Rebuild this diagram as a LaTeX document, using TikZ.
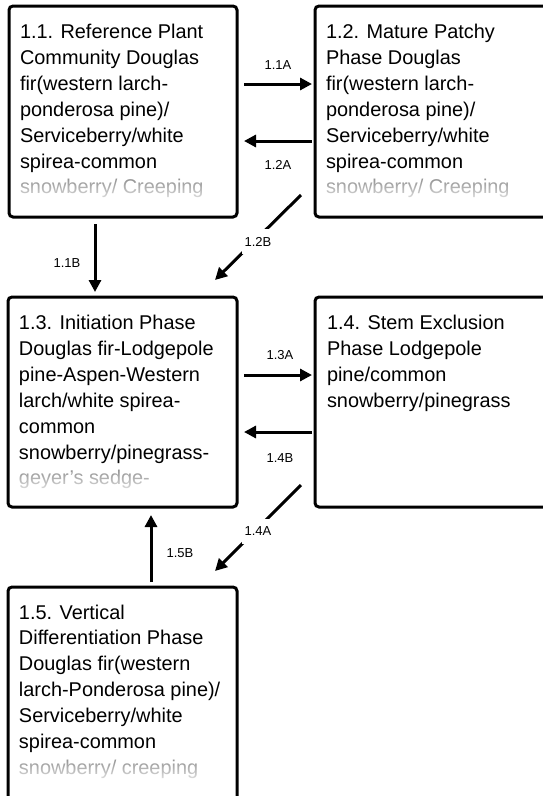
\documentclass[tikz,border=0pt]{standalone}
\usepackage{fontspec}
\setmainfont{Liberation Sans}
\usetikzlibrary{arrows.meta,fadings}
\tikzfading[name=lastline, top color=transparent!45, bottom color=transparent!10]
\newcommand{\boxtext}[1]{\begin{minipage}[t]{225pt}\fontsize{19.9pt}{25.9pt}\selectfont #1\end{minipage}}
\begin{document}
\begin{tikzpicture}[x=1pt,y=1pt,
  stage/.style={draw, line width=3pt, rounded corners=4pt, outer sep=0pt, inner sep=0pt, anchor=north west},
  txt/.style={anchor=base west, inner sep=0pt, outer sep=0pt},
  arr/.style={line width=3pt, -{Triangle[length=12pt,width=12pt]}},
  lbl/.style={font=\fontsize{13pt}{15pt}\selectfont, inner sep=0pt},
  dlbl/.style={lbl, fill=white, inner xsep=3pt, inner ysep=8pt},
  fade/.style={white, path fading=lastline}]
\useasboundingbox (0,0) rectangle (543,-796);
\clip (0,0) rectangle (543,-796);

% boxes
\node[stage, minimum width=228pt, minimum height=211pt] (b11) at (9,-6) {};
\node[stage, minimum width=240pt, minimum height=211pt] (b12) at (315,-6) {};
\node[stage, minimum width=229pt, minimum height=210pt] (b13) at (8,-297) {};
\node[stage, minimum width=240pt, minimum height=210pt] (b14) at (315,-297) {};
\node[stage, minimum width=229pt, minimum height=260pt] (b15) at (8,-587) {};

% texts
\node[txt] (t11) at ([shift={(11,-32.5)}]b11.north west) {\boxtext{1.1. Reference Plant\\Community Douglas\\fir(western larch-\\ponderosa pine)/\\Serviceberry/white\\spirea-common\\snowberry/ Creeping}};
\node[txt] (t12) at ([shift={(11,-32.5)}]b12.north west) {\boxtext{1.2. Mature Patchy\\Phase Douglas\\fir(western larch-\\ponderosa pine)/\\Serviceberry/white\\spirea-common\\snowberry/ Creeping}};
\node[txt] (t13) at ([shift={(11,-32.5)}]b13.north west) {\boxtext{1.3. Initiation Phase\\Douglas fir-Lodgepole\\pine-Aspen-Western\\larch/white spirea-\\common\\snowberry/pinegrass-\\geyer’s sedge-}};
\node[txt] (t14) at ([shift={(12,-32.5)}]b14.north west) {\boxtext{1.4. Stem Exclusion\\Phase Lodgepole\\pine/common\\snowberry/pinegrass}};
\node[txt] (t15) at ([shift={(11,-32)}]b15.north west) {\boxtext{1.5. Vertical\\Differentiation Phase\\Douglas fir(western\\larch-Ponderosa pine)/\\Serviceberry/white\\spirea-common\\snowberry/ creeping}};

% fading of the last visible line
\fill[fade] ([shift={(3,-171)}]b11.north west) rectangle ([shift={(225,-195)}]b11.north west);
\fill[fade] ([shift={(3,-171)}]b12.north west) rectangle ([shift={(236,-195)}]b12.north west);
\fill[fade] ([shift={(3,-171)}]b13.north west) rectangle ([shift={(226,-195)}]b13.north west);
\fill[fade] ([shift={(3,-170.5)}]b15.north west) rectangle ([shift={(226,-194.5)}]b15.north west);

% connectors
\draw[arr, shorten <=7pt, shorten >=3pt] ([yshift=27.5pt]b11.east) -- ([yshift=27.5pt]b12.west)
  node[lbl, midway, xshift=2pt, yshift=19pt] (l11a) {1.1A};
\draw[arr, shorten <=3pt, shorten >=7pt] ([yshift=-29.5pt]b12.west) -- ([yshift=-29.5pt]b11.east)
  node[lbl, midway, xshift=2pt, yshift=-24pt] (l12a) {1.2A};
\draw[arr, shorten <=7pt, shorten >=3pt] ([yshift=27pt]b13.east) -- ([yshift=27pt]b14.west)
  node[lbl, midway, xshift=4pt, yshift=20pt] (l13a) {1.3A};
\draw[arr, shorten <=3pt, shorten >=7pt] ([yshift=-30pt]b14.west) -- ([yshift=-30pt]b13.east)
  node[lbl, midway, xshift=4pt, yshift=-26pt] (l14b) {1.4B};
\draw[arr, shorten <=7pt, shorten >=5pt] ([xshift=-28pt]b11.south) -- ([xshift=-27.5pt]b13.north)
  node[lbl, midway, xshift=-28pt, yshift=-6pt] (l11b) {1.1B};
\draw[arr, shorten <=5pt, shorten >=8pt] ([xshift=28.5pt]b15.north) -- ([xshift=28.5pt]b13.south)
  node[lbl, midway, xshift=29pt, yshift=-6pt] (l15b) {1.5B};
\draw[arr] ([shift={(-14,22)}]b12.south west) -- ([shift={(-22,17)}]b13.north east)
  node[dlbl, midway, yshift=-4pt] (l12b) {1.2B};
\draw[arr] ([shift={(-14,22)}]b14.south west) -- ([shift={(-22,16)}]b15.north east)
  node[dlbl, midway, yshift=-3.5pt] (l14a) {1.4A};
\end{tikzpicture}
\end{document}
